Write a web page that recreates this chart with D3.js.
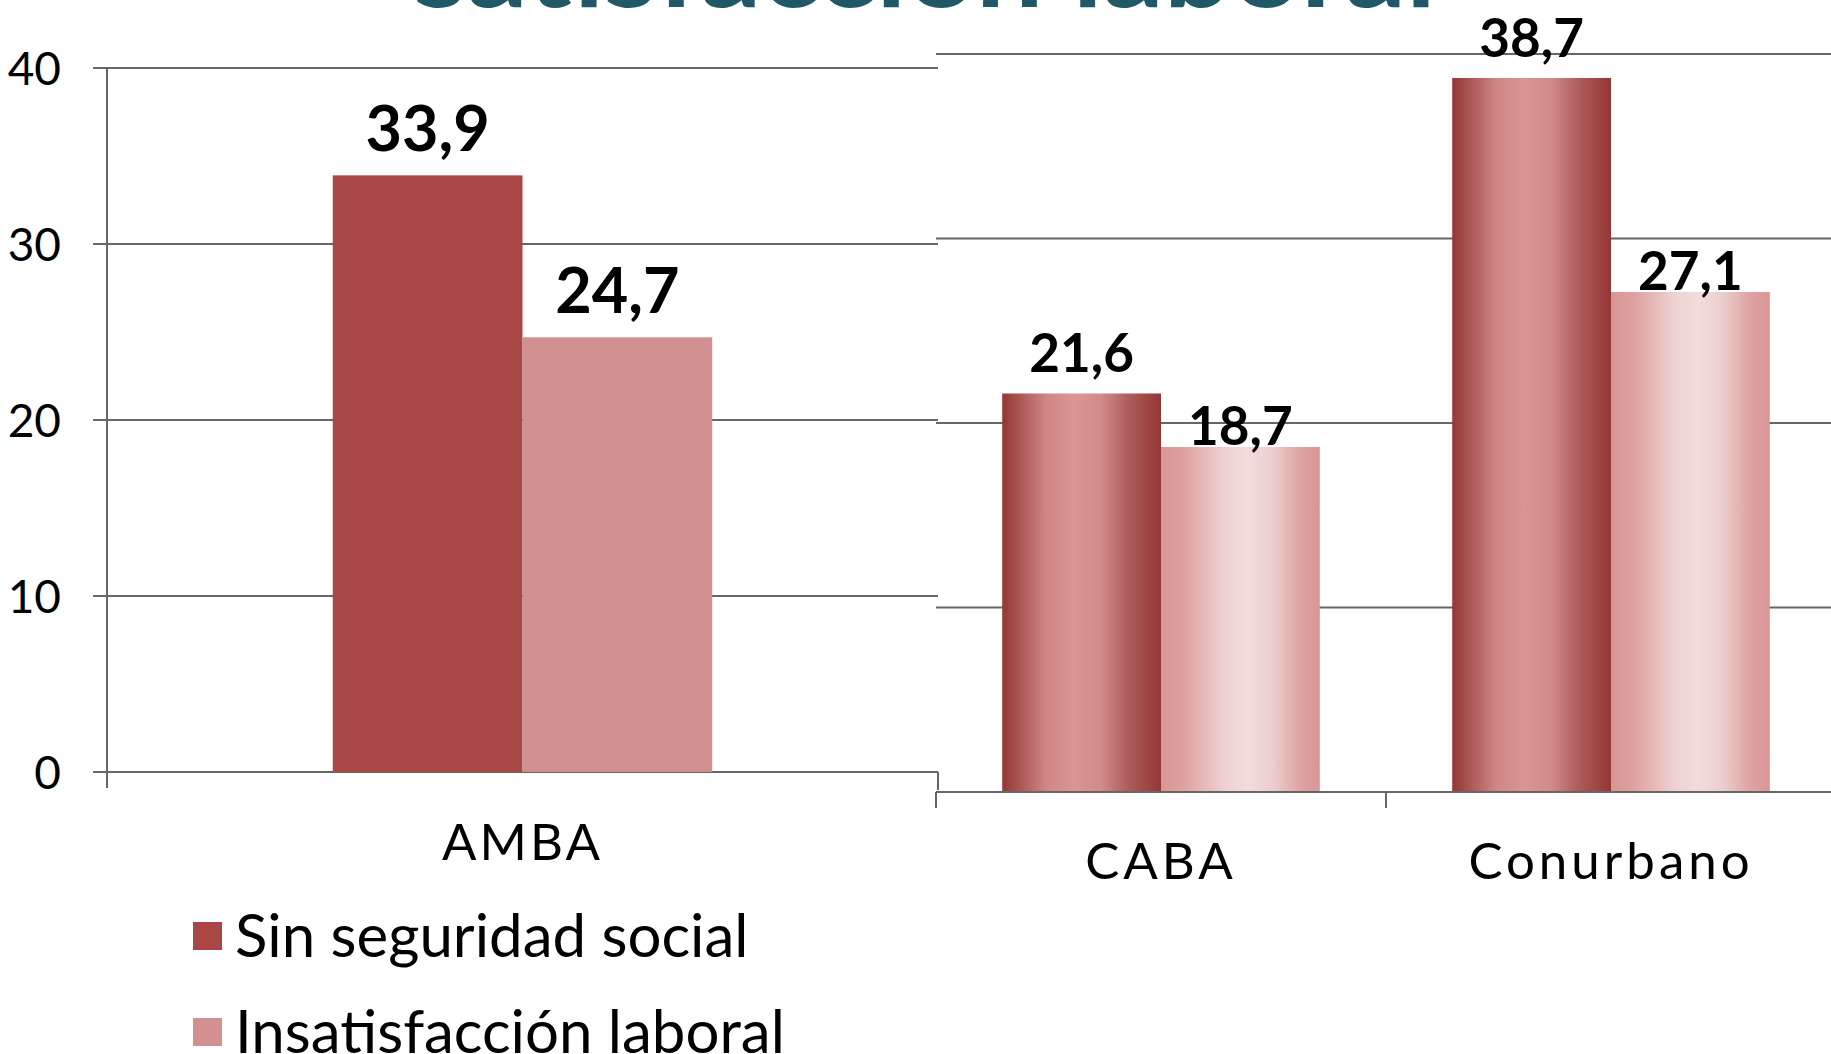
<!DOCTYPE html>
<html>
<head>
<meta charset="utf-8">
<script src="https://cdn.jsdelivr.net/npm/d3@7"></script>
<style>
  html, body { margin: 0; padding: 0; background: #fff; }
  svg { display: block; font-family: Lato, "Open Sans", sans-serif; }
</style>
</head>
<body>
<div id="chart"></div>
<script>
// data
const seriesNames = ["Sin seguridad social", "Insatisfacción laboral"];
const leftCategories = ["AMBA"];
const leftSinSeguridad = [33.9];
const leftInsatisfaccion = [24.7];
const rightCategories = ["CABA", "Conurbano"];
const rightSinSeguridad = [21.6, 38.7];
const rightInsatisfaccion = [18.7, 27.1];
const yTicks = [0, 10, 20, 30, 40];
const titleText = "satisfacción laboral";

const W = 1831, H = 1054;
const gridColor = "#666666";
const flatColors = ["#A94744", "#D29090"];

const fmt = v => d3.format(".1f")(v).replace(".", ",");

const svg = d3.select("#chart").append("svg")
    .attr("width", W)
    .attr("height", H);

const defs = svg.append("defs");

// gradient fills for right chart bars
const gradStops = [
    [[0, "#943634"], [0.28, "#CF8785"], [0.45, "#D99594"], [0.62, "#D18B8A"], [0.8, "#AC5C5A"], [1, "#943634"]],
    [[0, "#D99594"], [0.15, "#DEA2A1"], [0.4, "#EED2D1"], [0.55, "#F2DCDB"], [0.7, "#ECCFCE"], [0.88, "#DEA3A2"], [1, "#D99594"]]
];
gradStops.forEach((stops, i) => {
    const g = defs.append("linearGradient")
        .attr("id", "grad" + i)
        .attr("x1", "0%").attr("x2", "100%")
        .attr("y1", "0%").attr("y2", "0%");
    stops.forEach(s => g.append("stop").attr("offset", s[0]).attr("stop-color", s[1]));
});

// title (mostly cut off at top)
svg.append("text")
    .attr("x", 414)
    .attr("y", 7)
    .attr("textLength", 1022)
    .attr("lengthAdjust", "spacingAndGlyphs")
    .attr("fill", "#215868")
    .attr("font-weight", 700)
    .attr("font-size", 110)
    .text(titleText);

// ---------- right chart (drawn first, sits behind) ----------
const right = svg.append("g");
const xR = d3.scaleBand().domain(rightCategories).range([936, 1836]);
const xRin = d3.scaleBand().domain(seriesNames).range([0, xR.bandwidth()])
    .paddingInner(0).paddingOuter(0.417);
const yR = d3.scaleLinear().domain([0, 40]).range([792, 54]);

right.append("g")
    .selectAll("line")
    .data(yTicks.filter(t => t > 0))
    .join("line")
    .attr("x1", 936).attr("x2", W)
    .attr("y1", d => yR(d)).attr("y2", d => yR(d))
    .attr("stroke", gridColor)
    .attr("stroke-width", 1.8);

const rightData = rightCategories.map((c, i) => ({
    cat: c, values: [rightSinSeguridad[i], rightInsatisfaccion[i]]
}));

const rGroups = right.append("g")
    .selectAll("g")
    .data(rightData)
    .join("g")
    .attr("transform", d => `translate(${xR(d.cat)},0)`);

rGroups.selectAll("rect")
    .data(d => d.values.map((v, j) => ({ s: seriesNames[j], v, j })))
    .join("rect")
    .attr("x", d => xRin(d.s))
    .attr("y", d => yR(d.v))
    .attr("width", xRin.bandwidth())
    .attr("height", d => yR(0) - yR(d.v))
    .attr("fill", d => `url(#grad${d.j})`);

const rightLabelLift = [21, 2];
rGroups.selectAll("text")
    .data(d => d.values.map((v, j) => ({ s: seriesNames[j], v, j })))
    .join("text")
    .attr("x", d => xRin(d.s) + xRin.bandwidth() / 2)
    .attr("y", d => yR(d.v) - rightLabelLift[d.j])
    .attr("text-anchor", "middle")
    .attr("font-weight", 700)
    .attr("font-size", 53)
    .attr("fill", "#000")
    .text(d => fmt(d.v));

// x axis of right chart
const xAxisR = right.append("g").attr("transform", `translate(0,${yR(0)})`)
    .call(d3.axisBottom(xR).tickSize(0).tickPadding(51).tickSizeOuter(0));
xAxisR.select(".domain").remove();
xAxisR.selectAll("text")
    .attr("font-size", 51)
    .attr("letter-spacing", 4)
    .attr("font-family", "Lato")
    .attr("fill", "#000");
right.append("line")
    .attr("x1", 936).attr("x2", W)
    .attr("y1", yR(0)).attr("y2", yR(0))
    .attr("stroke", gridColor).attr("stroke-width", 2);
right.append("g")
    .selectAll("line")
    .data(rightCategories.map(c => xR(c)).concat([xR.range()[1]]))
    .join("line")
    .attr("x1", d => d).attr("x2", d => d)
    .attr("y1", yR(0)).attr("y2", yR(0) + 16)
    .attr("stroke", gridColor).attr("stroke-width", 2);

// ---------- left chart ----------
const left = svg.append("g");
const xL = d3.scaleBand().domain(leftCategories).range([107, 938]);
const xLin = d3.scaleBand().domain(seriesNames).range([0, xL.bandwidth()])
    .paddingInner(0).paddingOuter(1.19);
const yL = d3.scaleLinear().domain([0, 40]).range([772, 68]);

left.append("g")
    .selectAll("line")
    .data(yTicks)
    .join("line")
    .attr("x1", 93).attr("x2", 938)
    .attr("y1", d => yL(d)).attr("y2", d => yL(d))
    .attr("stroke", gridColor)
    .attr("stroke-width", 1.8);

left.append("g")
    .selectAll("text")
    .data(yTicks)
    .join("text")
    .attr("x", 61)
    .attr("y", d => yL(d))
    .attr("dy", "0.36em")
    .attr("text-anchor", "end")
    .attr("font-size", 46)
    .attr("fill", "#000")
    .text(d => d);

const leftData = leftCategories.map((c, i) => ({
    cat: c, values: [leftSinSeguridad[i], leftInsatisfaccion[i]]
}));

const lGroups = left.append("g")
    .selectAll("g")
    .data(leftData)
    .join("g")
    .attr("transform", d => `translate(${xL(d.cat)},0)`);

lGroups.selectAll("rect")
    .data(d => d.values.map((v, j) => ({ s: seriesNames[j], v, j })))
    .join("rect")
    .attr("x", d => xLin(d.s))
    .attr("y", d => yL(d.v))
    .attr("width", xLin.bandwidth())
    .attr("height", d => yL(0) - yL(d.v))
    .attr("fill", d => flatColors[d.j]);

lGroups.selectAll("text")
    .data(d => d.values.map((v, j) => ({ s: seriesNames[j], v, j })))
    .join("text")
    .attr("x", d => xLin(d.s) + xLin.bandwidth() / 2)
    .attr("y", d => yL(d.v) - 24)
    .attr("text-anchor", "middle")
    .attr("font-weight", 700)
    .attr("font-size", 63)
    .attr("fill", "#000")
    .text(d => fmt(d.v));

// y axis line + x ticks
left.append("line")
    .attr("x1", 107).attr("x2", 107)
    .attr("y1", yL(40)).attr("y2", yL(0) + 16)
    .attr("stroke", gridColor).attr("stroke-width", 2);
left.append("line")
    .attr("x1", 938).attr("x2", 938)
    .attr("y1", yL(0)).attr("y2", yL(0) + 18)
    .attr("stroke", gridColor).attr("stroke-width", 2);

const xAxisL = left.append("g").attr("transform", `translate(0,${yL(0)})`)
    .call(d3.axisBottom(xL).tickSize(0).tickPadding(52));
xAxisL.select(".domain").remove();
xAxisL.selectAll("text")
    .attr("font-size", 51)
    .attr("letter-spacing", 3)
    .attr("font-family", "Lato")
    .attr("fill", "#000");

// legend
const legend = svg.append("g")
    .selectAll("g")
    .data(seriesNames)
    .join("g")
    .attr("transform", (d, i) => `translate(193,${936 + i * 96})`);
legend.append("rect")
    .attr("x", 0).attr("y", -14)
    .attr("width", 29).attr("height", 28)
    .attr("fill", (d, i) => flatColors[i]);
legend.append("text")
    .attr("x", 42)
    .attr("y", 21)
    .attr("font-size", 60)
    .attr("fill", "#000")
    .text(d => d);
</script>
</body>
</html>
